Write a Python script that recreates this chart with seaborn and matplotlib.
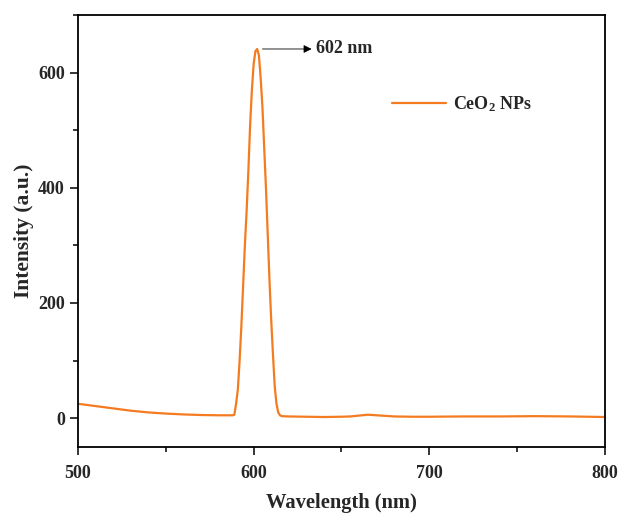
import matplotlib
matplotlib.use("Agg")
import matplotlib.pyplot as plt
import seaborn as sns
import pandas as pd
from matplotlib.ticker import MultipleLocator

wavelength = [500, 510, 520, 530, 540, 550, 560, 570, 580, 586, 588, 589, 590, 591, 592,
              593, 594, 595, 596, 597, 598, 599, 600, 601, 602, 603, 604, 605, 606, 607,
              608, 609, 610, 611, 612, 613, 614, 615, 616, 620, 630, 640, 650, 655, 660,
              665, 670, 675, 680, 690, 700, 720, 740, 760, 780, 800]
intensity = [25, 21, 17, 13, 10, 8, 6.5, 5.5, 5, 5, 5, 6, 25, 50, 100,
             160, 230, 300, 360, 430, 510, 570, 615, 637, 641, 630, 590, 540, 470, 400,
             320, 240, 170, 110, 55, 25, 10, 5, 3.5, 3, 2.5, 2, 2.5, 3, 4.5,
             6, 5, 4, 3, 2.5, 2.5, 3, 3, 3.5, 3, 2]
series_label = "CeO$_2$ NPs"
peak_label = "602 nm"

df = pd.DataFrame({"Wavelength": wavelength, "Intensity": intensity, "Sample": series_label})

sns.set_style("ticks")
plt.rcParams["font.family"] = ["Liberation Serif", "DejaVu Serif"]
plt.rcParams["mathtext.fontset"] = "custom"
plt.rcParams["mathtext.rm"] = "Liberation Serif:bold"
plt.rcParams["mathtext.it"] = "Liberation Serif:bold"
plt.rcParams["mathtext.bf"] = "Liberation Serif:bold"
plt.rcParams["font.weight"] = "bold"

fig = plt.figure(figsize=(6.21, 5.14), dpi=100)
ax = fig.add_axes([0.1256, 0.1304, 0.8486, 0.8404])

sns.lineplot(data=df, x="Wavelength", y="Intensity", hue="Sample",
             palette=["#F47B20"], linewidth=1.6, ax=ax)

ax.set_xlim(500, 800)
ax.set_ylim(-50, 700)
ax.xaxis.set_major_locator(MultipleLocator(100))
ax.xaxis.set_minor_locator(MultipleLocator(50))
ax.yaxis.set_major_locator(MultipleLocator(200))
ax.yaxis.set_minor_locator(MultipleLocator(100))

for s in ax.spines.values():
    s.set_linewidth(1.3)
    s.set_color("black")
    s.set_visible(True)

ax.tick_params(axis="both", which="major", direction="out", length=6, width=1.3,
               labelsize=13, top=False, right=False)
ax.tick_params(axis="both", which="minor", direction="out", length=3.5, width=1.3,
               top=False, right=False)
ax.tick_params(axis="x", which="major", pad=7)
ax.tick_params(axis="y", which="major", pad=3.5)
for lab in ax.get_xticklabels() + ax.get_yticklabels():
    lab.set_fontweight("bold")

ax.set_xlabel("Wavelength (nm)", fontsize=14.8, fontweight="bold", labelpad=8)
ax.set_ylabel("Intensity (a.u.)", fontsize=15.5, fontweight="bold", labelpad=3)

ax.annotate("", xy=(633, 641), xytext=(605, 641),
            arrowprops=dict(arrowstyle="-|>", color="black", lw=0.6,
                            mutation_scale=12, shrinkA=0, shrinkB=0))
ax.text(635.5, 641, peak_label, fontsize=13, fontweight="bold", va="center", ha="left")

leg = ax.legend(loc="center left", bbox_to_anchor=(0.596, 0.794), frameon=False,
                borderpad=0, borderaxespad=0, handlelength=3.0, handletextpad=0.35,
                prop={"size": 13, "weight": "bold"})

fig.savefig("out.png", dpi=100)
